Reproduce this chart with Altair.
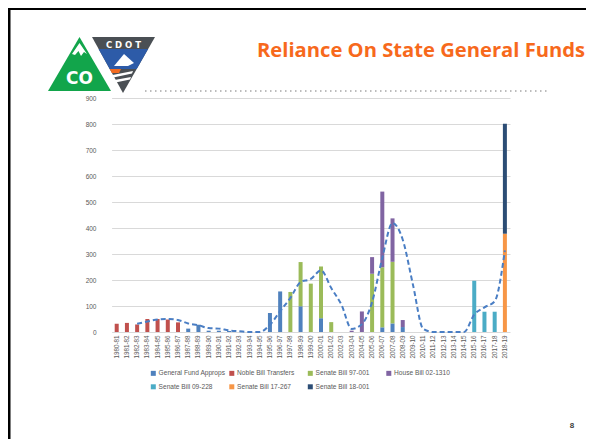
import altair as alt
import pandas as pd

# ---------------- data ----------------
years = ["1980-81", "1981-82", "1982-83", "1983-84", "1984-85", "1985-86", "1986-87",
         "1987-88", "1988-89", "1989-90", "1990-91", "1991-92", "1992-93", "1993-94",
         "1994-95", "1995-96", "1996-97", "1997-98", "1998-99", "1999-00", "2000-01",
         "2001-02", "2002-03", "2003-04", "2004-05", "2005-06", "2006-07", "2007-08",
         "2008-09", "2009-10", "2010-11", "2011-12", "2012-13", "2013-14", "2014-15",
         "2015-16", "2016-17", "2017-18", "2018-19"]

series_names = ["General Fund Approps", "Noble Bill Transfers", "Senate Bill 97-001",
                "House Bill 02-1310", "Senate Bill 09-228", "Senate Bill 17-267",
                "Senate Bill 18-001"]
series_colors = ["#4F81BD", "#C0504D", "#9BBB59", "#8064A2", "#4BACC6", "#F79646", "#2C4D75"]

general_fund = [0, 0, 0, 0, 0, 0, 0, 13, 28, 5, 5, 4, 0, 0, 0, 73, 156, 0, 99, 0, 53,
                0, 0, 0, 0, 0, 18, 33, 19, 0, 0, 0, 0, 0, 0, 0, 0, 0, 0]
noble_bill = [32, 35, 29, 50, 50, 48, 37, 0, 0, 0, 0, 0, 0, 0, 0, 0, 0, 0, 0, 0, 0,
              0, 0, 0, 0, 0, 0, 0, 0, 0, 0, 0, 0, 0, 0, 0, 0, 0, 0]
sb_97_001 = [0, 0, 0, 0, 0, 0, 0, 0, 0, 0, 0, 0, 0, 0, 0, 0, 0, 154, 170, 186, 199,
             38, 0, 0, 0, 224, 231, 237, 0, 0, 0, 0, 0, 0, 0, 0, 0, 0, 0]
hb_02_1310 = [0, 0, 0, 0, 0, 0, 0, 0, 0, 0, 0, 0, 0, 0, 0, 0, 0, 0, 0, 0, 0,
              0, 0, 5, 79, 64, 291, 167, 27, 0, 0, 0, 0, 0, 0, 0, 0, 0, 0]
sb_09_228 = [0, 0, 0, 0, 0, 0, 0, 0, 0, 0, 0, 0, 0, 0, 0, 0, 0, 0, 0, 0, 0,
             0, 0, 0, 0, 0, 0, 0, 0, 0, 0, 0, 0, 0, 0, 197, 78, 78, 0]
sb_17_267 = [0] * 38 + [378]
sb_18_001 = [0] * 38 + [423]

trend_years = years[2:]
trend_values = [32, 40, 48, 50, 46, 33, 26, 15, 13, 6, 3, 0, 0, 28, 80, 131, 192, 204,
                237, 169, 105, 12, 30, 115, 285, 419, 355, 182, 12, 0, 0, 0, 0, 67, 95,
                118, 314]

all_series = [general_fund, noble_bill, sb_97_001, hb_02_1310, sb_09_228, sb_17_267, sb_18_001]

rows = []
for si, (name, vals) in enumerate(zip(series_names, all_series)):
    for y, v in zip(years, vals):
        if v > 0:
            rows.append({"year": y, "series": name, "idx": si, "value": v})
bar_df = pd.DataFrame(rows)
trend_df = pd.DataFrame({"year": trend_years, "value": trend_values})

# ---------------- layout ----------------
W, H = 409, 234
OX, OY = 101, 98          # page position of the plot origin
PAD = {"left": OX - 8, "top": OY - 8, "right": 578 - (OX - 8) - W, "bottom": 431 - (OY - 8) - H}
FONT = "Liberation Sans"
GRAY = "#595959"
one = pd.DataFrame({"a": [0]})


def px(x):
    return x - OX


def py(y):
    return y - OY


def poly(points, color):
    xs = [p[0] for p in points]
    ys = [p[1] for p in points]
    cx = (min(xs) + max(xs)) / 2
    cy = (min(ys) + max(ys)) / 2
    half = max(max(xs) - min(xs), max(ys) - min(ys)) / 2
    path = "M" + "L".join(f"{(x - cx) / half:.4f},{(y - cy) / half:.4f}" for x, y in points) + "Z"
    return alt.Chart(one).mark_point(
        shape=path, size=(2 * half) ** 2, filled=True, color=color, opacity=1, strokeWidth=0
    ).encode(x=alt.value(px(cx)), y=alt.value(py(cy)))


def text(t, x, y, size, color, weight="normal", align="left", baseline="alphabetic", font=FONT):
    return alt.Chart(one).mark_text(
        text=t, fontSize=size, color=color, fontWeight=weight, align=align,
        baseline=baseline, font=font
    ).encode(x=alt.value(px(x)), y=alt.value(py(y)))


# ---------------- chart ----------------
x_axis = alt.Axis(title=None, labelAngle=270, labelFontSize=6.3, labelColor=GRAY,
                  labelFont=FONT, ticks=False, domain=False, labelPadding=3,
                  labelOverlap=False, grid=False)
y_axis = alt.Axis(title=None, values=list(range(0, 901, 100)), labelFontSize=6.5,
                  labelColor=GRAY, labelFont=FONT, ticks=False, domain=False,
                  labelPadding=5, gridColor="#d9d9d9", gridWidth=1, labelOverlap=False)
x_scale = alt.Scale(domain=years, range=[10.6, 409], paddingInner=0, paddingOuter=0)
y_scale = alt.Scale(domain=[0, 900], nice=False)

bars = alt.Chart(bar_df).mark_bar(size=4).encode(
    x=alt.X("year:N", sort=years, scale=x_scale, axis=x_axis),
    y=alt.Y("value:Q", stack="zero", scale=y_scale, axis=y_axis),
    color=alt.Color("series:N",
                    scale=alt.Scale(domain=series_names, range=series_colors),
                    legend=alt.Legend(title=None, orient="none", legendX=49, legendY=272,
                                      direction="horizontal", columns=4, gridAlign="all",
                                      symbolType="square", symbolSize=25, symbolStrokeWidth=0,
                                      labelFontSize=6.6, labelColor=GRAY, labelFont=FONT,
                                      labelOffset=2, columnPadding=2.5, rowPadding=6.5)),
    order=alt.Order("idx:Q", sort="ascending"),
)

trend = alt.Chart(trend_df).mark_line(
    color="#4A7EC4", strokeWidth=2, strokeDash=[5, 3], interpolate="monotone"
).encode(x=alt.X("year:N", sort=years, scale=x_scale, axis=x_axis),
         y=alt.Y("value:Q", scale=y_scale, axis=y_axis))

# ---------------- slide decorations ----------------
deco = []
# frame lines
deco.append(alt.Chart(one).mark_rule(color="#000000", strokeWidth=3).encode(
    x=alt.value(px(9)), y=alt.value(py(8)), y2=alt.value(py(447))))
deco.append(alt.Chart(one).mark_rule(color="#000000", strokeWidth=3).encode(
    x=alt.value(px(8)), x2=alt.value(px(594)), y=alt.value(py(8.5))))
# dotted separator
deco.append(alt.Chart(one).mark_rule(color="#a6a6a6", strokeWidth=1.5, strokeDash=[1.5, 3.5]).encode(
    x=alt.value(px(145)), x2=alt.value(px(548)), y=alt.value(py(91))))
# logo: CO triangle
deco.append(poly([(48, 91), (79.5, 37), (111, 91)], "#12A54B"))
deco.append(poly([(79.5, 43), (87, 54), (84, 52), (81, 56), (78.5, 51), (75, 55), (72, 54)], "#FFFFFF"))
deco.append(text("CO", 79.5, 84, 17, "#FFFFFF", weight="bold", align="center", font="DejaVu Sans"))
# logo: CDOT triangle
deco.append(poly([(92, 37), (155, 37), (123, 93)], "#4A4F54"))
deco.append(poly([(98.6, 49), (148.1, 49), (136.7, 69), (109.7, 69)], "#2D5BA8"))
deco.append(poly([(114, 66), (124, 54), (134, 63), (128, 66)], "#FFFFFF"))
deco.append(poly([(109.7, 69), (121, 69), (119, 73), (111.9, 73)], "#F26B21"))
deco.append(poly([(112.5, 75), (133, 71), (132, 73.5), (113.5, 77.5)], "#FFFFFF"))
deco.append(poly([(114.5, 80), (131, 77), (130, 79.5), (115.5, 82.5)], "#FFFFFF"))
deco.append(text("C D O T", 123.5, 47.5, 8.5, "#FFFFFF", weight="bold", align="center", font="DejaVu Sans"))
# title and page number
deco.append(text("Reliance On State General Funds", 257, 57, 20.2, "#F7691C", weight="bold",
                 font="Open Sans"))
deco.append(text("8", 572, 428, 8, "#404040", weight="bold", align="center"))

chart = alt.layer(bars, trend, *deco).properties(
    width=W, height=H, padding=PAD, autosize="none"
).configure_view(stroke=None)

chart.save("out.html", embed_options={"renderer": "svg", "actions": False})
